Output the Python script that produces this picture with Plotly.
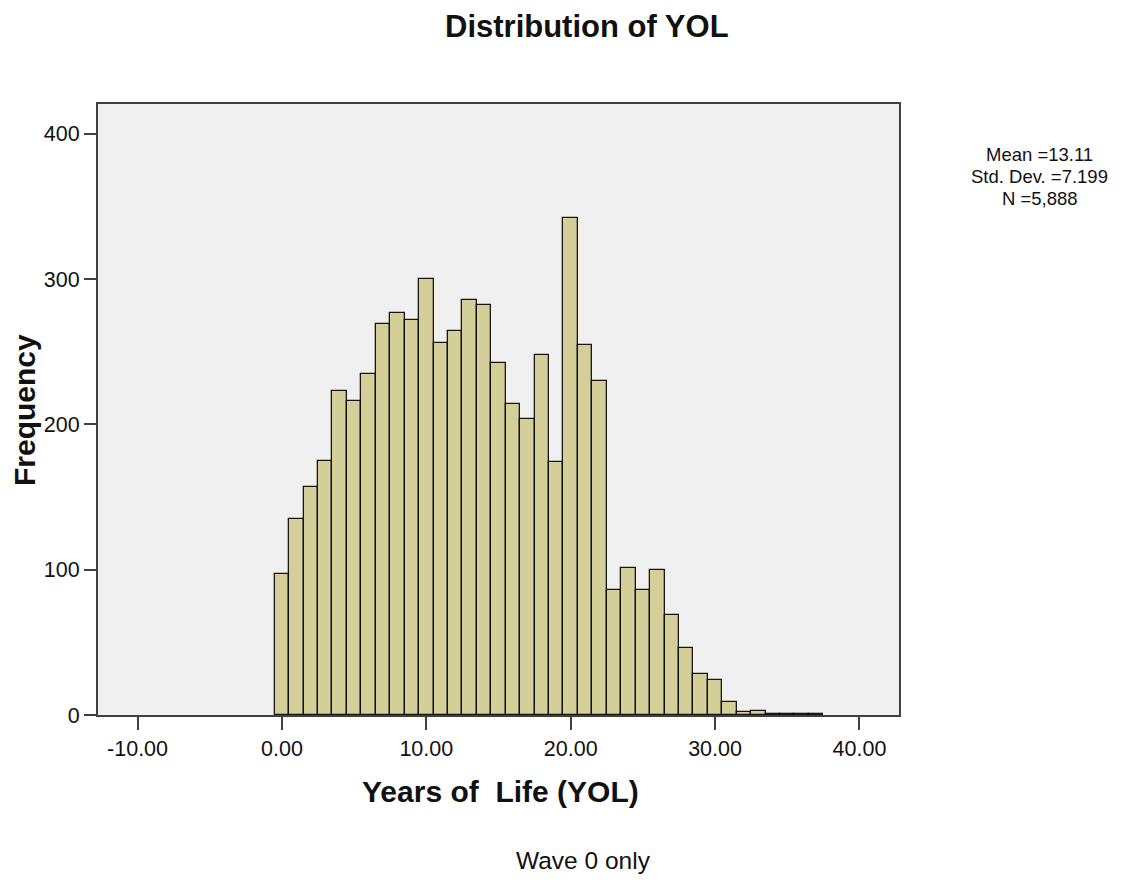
import plotly.graph_objects as go

# Histogram bins (centered on integer years) and frequencies
bin_centers = list(range(0, 38))
frequencies = [97, 135, 157, 175, 223, 216, 235, 269, 277, 272,
               300, 256, 264, 286, 282, 242, 214, 204, 248, 174,
               342, 255, 230, 86, 101, 86, 100, 69, 46, 28,
               24, 9, 2, 3, 1, 1, 1, 1]

x_tickvals = [-10, 0, 10, 20, 30, 40]
x_ticktext = ["-10.00", "0.00", "10.00", "20.00", "30.00", "40.00"]
y_tickvals = [0, 100, 200, 300, 400]

title_text = "Distribution of YOL"
x_title = "Years of  Life (YOL)"
y_title = "Frequency"
footnote = "Wave 0 only"
stats_lines = ["Mean =13.11", "Std. Dev. =7.199", "N =5,888"]

FONT = "Arial, 'Liberation Sans', sans-serif"
AXIS_COLOR = "#404040"

fig = go.Figure()
fig.add_trace(go.Bar(
    x=bin_centers,
    y=frequencies,
    width=1.0,
    marker=dict(color="#D4CF98", line=dict(color="rgba(0,0,0,0.9)", width=1.3)),
    hoverinfo="x+y",
))

fig.update_layout(
    width=1113, height=869,
    margin=dict(l=90, r=222, t=96, b=162),
    paper_bgcolor="white",
    plot_bgcolor="#F0F0F0",
    bargap=0,
    showlegend=False,
    font=dict(family=FONT, color="#111111", size=21),
)

fig.update_xaxes(
    range=[-12.74, 42.74],
    tickvals=x_tickvals, ticktext=x_ticktext,
    ticks="outside", ticklen=13, tickwidth=2, tickcolor=AXIS_COLOR,
    showgrid=False, zeroline=False,
    showline=True, linecolor=AXIS_COLOR, linewidth=2, mirror=True,
    tickfont=dict(family=FONT, size=21.5, color="#111111"),
)
fig.update_yaxes(
    range=[0, 420.6],
    tickvals=y_tickvals,
    ticks="outside", ticklen=12, tickwidth=2, tickcolor=AXIS_COLOR,
    showgrid=False, zeroline=False,
    showline=True, linecolor=AXIS_COLOR, linewidth=2, mirror=True,
    tickfont=dict(family=FONT, size=21.5, color="#111111"),
)

annotations = [
    dict(text="<b>%s</b>" % title_text, x=0.610, y=1.1276, xref="paper", yref="paper",
         xanchor="center", yanchor="middle", showarrow=False,
         font=dict(family=FONT, size=31, color="#111111")),
    dict(text="<b>%s</b>" % x_title, x=0.502, y=-0.1244, xref="paper", yref="paper",
         xanchor="center", yanchor="middle", showarrow=False,
         font=dict(family=FONT, size=30, color="#111111")),
    dict(text="<b>%s</b>" % y_title, x=-0.0911, y=0.4992, xref="paper", yref="paper",
         xanchor="center", yanchor="middle", showarrow=False, textangle=-90,
         font=dict(family=FONT, size=30, color="#111111")),
    dict(text=footnote, x=0.6067, y=-0.2374, xref="paper", yref="paper",
         xanchor="center", yanchor="middle", showarrow=False,
         font=dict(family=FONT, size=24.5, color="#111111")),
]
for i, line in enumerate(stats_lines):
    annotations.append(dict(text=line, x=1.176, y=0.9166 - i * 0.036, xref="paper", yref="paper",
                            xanchor="center", yanchor="middle", showarrow=False,
                            font=dict(family=FONT, size=18.5, color="#111111")))
fig.update_layout(annotations=annotations)

fig.write_html("out.html")
